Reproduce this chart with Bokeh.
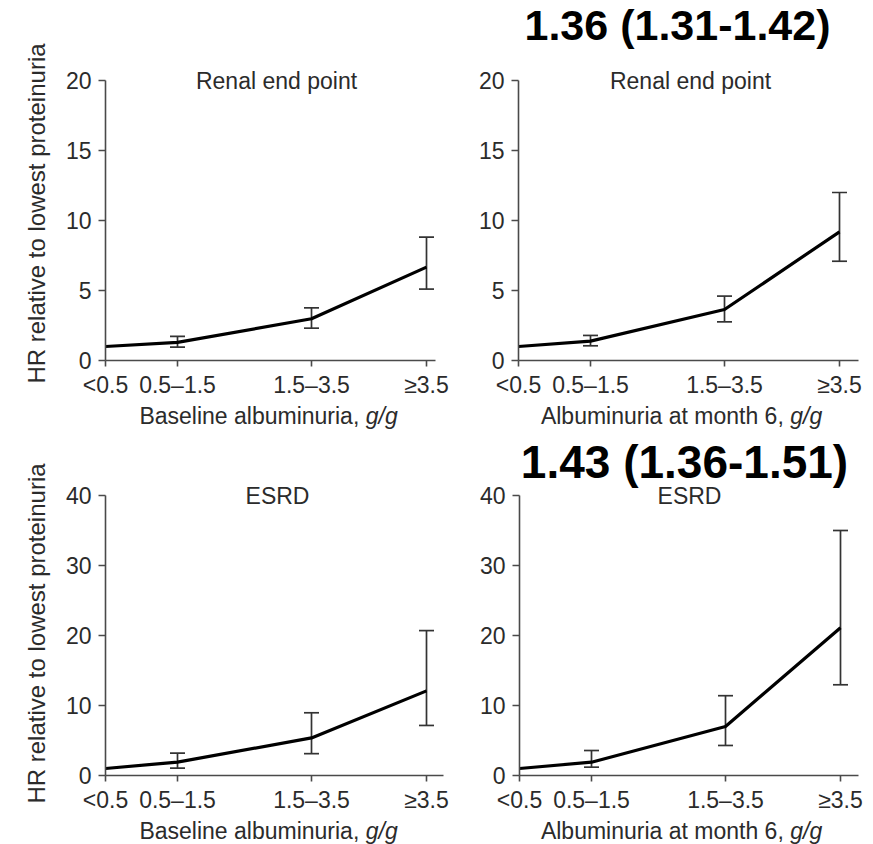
import math
from bokeh.plotting import figure
from bokeh.layouts import column, row
from bokeh.models import (ColumnDataSource, Whisker, TeeHead, Label, FixedTicker,
                          Range1d, LinearAxis)
from bokeh.embed import file_html
from bokeh.resources import INLINE

# ---------------- data ----------------
categories = ["<0.5", "0.5–1.5", "1.5–3.5", "≥3.5"]
x_pos = [0.0, 0.72, 2.06, 3.21]

renal_base_hr = [1.0, 1.30, 2.98, 6.67]
renal_base_lo = [1.0, 0.95, 2.31, 5.10]
renal_base_hi = [1.0, 1.72, 3.76, 8.81]

renal_m6_hr = [1.0, 1.38, 3.64, 9.19]
renal_m6_lo = [1.0, 1.05, 2.76, 7.09]
renal_m6_hi = [1.0, 1.79, 4.60, 12.0]

esrd_base_hr = [1.0, 1.92, 5.37, 12.09]
esrd_base_lo = [1.0, 1.05, 3.12, 7.15]
esrd_base_hi = [1.0, 3.20, 8.96, 20.7]

esrd_m6_hr = [1.0, 1.90, 7.00, 21.1]
esrd_m6_lo = [1.0, 1.19, 4.29, 12.96]
esrd_m6_hi = [1.0, 3.57, 11.4, 35.0]

renal_ticks = [0, 5, 10, 15, 20]
esrd_ticks = [0, 10, 20, 30, 40]

renal_title = "Renal end point"
esrd_title = "ESRD"
y_title = "HR relative to lowest proteinuria"
xlab_base = ("Baseline albuminuria,", "g/g")
xlab_m6 = ("Albuminuria at month 6,", "g/g")
hr_renal_text = "1.36 (1.31-1.42)"
hr_esrd_text = "1.43 (1.36-1.51)"

FONT = "Liberation Sans"
TXT = "#2b2b2b"
AX = "#4a4a4a"
FS = "23px"
PX_PER_X = 100.0


class Panel:
    def __init__(self, W, H, X0, Y0, k, x_bound, y_end, yticks, hr, lo, hi):
        self.X0, self.Y0, self.k = X0, Y0, k
        p = figure(width=W, height=H, output_backend="svg", toolbar_location=None,
                   x_range=Range1d(-X0 / PX_PER_X, (W - X0) / PX_PER_X),
                   y_range=Range1d(-(H - Y0) / k, Y0 / k),
                   x_axis_location=None, y_axis_location=None,
                   min_border=0)
        p.title.visible = False
        p.outline_line_color = None
        p.grid.visible = False
        p.background_fill_color = "white"
        p.border_fill_color = "white"

        xa = LinearAxis(fixed_location=0, bounds=(0, x_bound), ticker=FixedTicker(ticks=x_pos))
        xa.major_label_overrides = {x: c for x, c in zip(x_pos, categories)}
        ya = LinearAxis(fixed_location=0, bounds=(0, y_end), ticker=FixedTicker(ticks=yticks))
        for ax in (xa, ya):
            ax.axis_line_color = AX
            ax.axis_line_width = 1.6
            ax.major_tick_line_color = AX
            ax.major_tick_line_width = 1.6
            ax.minor_tick_line_color = None
            ax.major_tick_in = 0
            ax.major_label_text_font = FONT
            ax.major_label_text_font_size = FS
            ax.major_label_text_color = TXT
        xa.major_tick_out = 6
        ya.major_tick_out = 7
        xa.major_label_standoff = 5
        ya.major_label_standoff = 7
        p.add_layout(xa, "below")
        p.add_layout(ya, "left")

        src = ColumnDataSource(dict(x=x_pos[1:], lo=lo[1:], hi=hi[1:]))
        w = Whisker(source=src, base="x", lower="lo", upper="hi", dimension="height",
                    line_color="#333333", line_width=1.7,
                    upper_head=TeeHead(size=15, line_color="#333333", line_width=1.7),
                    lower_head=TeeHead(size=15, line_color="#333333", line_width=1.7))
        p.add_layout(w)
        p.line(x_pos, hr, line_color="black", line_width=3.2)
        self.p = p

    def text(self, px, py, text, align="center", size=FS, style="normal", color=TXT,
             angle=0.0):
        self.p.add_layout(Label(x=(px - self.X0) / PX_PER_X, y=(self.Y0 - py) / self.k,
                                text=text, text_align=align, text_baseline="middle",
                                angle=angle, text_font=FONT, text_font_size=size,
                                text_font_style=style, text_color=color))

    def xlabel(self, cx, py, parts, normal_w, gap, ital_w):
        total = normal_w + gap + ital_w
        left = cx - total / 2
        self.text(left + normal_w, py, parts[0], align="right")
        self.text(left + normal_w + gap, py, parts[1], align="left", style="italic")


TOP_H, BOT_H = 432, 412

# top-left
a = Panel(450, TOP_H, 105, 360, 14.0, 3.30, 20, renal_ticks,
          renal_base_hr, renal_base_lo, renal_base_hi)
a.text(276, 80.5, renal_title)
a.xlabel(268, 415.5, xlab_base, 220, 6.4, 32)
a.text(36, 213, y_title, size="24px", angle=math.pi / 2)

# top-right
b = Panel(423, TOP_H, 68, 360, 14.0, 3.40, 20, renal_ticks,
          renal_m6_hr, renal_m6_lo, renal_m6_hi)
b.text(240, 80, renal_title)
b.xlabel(231, 415.5, xlab_m6, 243, 6.4, 32)
b.text(227, 24, hr_renal_text, size="43px", style="bold", color="black")

# bottom-left
c = Panel(450, BOT_H, 105, 343, 7.0, 3.38, 40, esrd_ticks,
          esrd_base_hr, esrd_base_lo, esrd_base_hi)
c.text(277, 63.5, esrd_title)
c.xlabel(268, 398, xlab_base, 220, 6.4, 32)
c.text(36, 201, y_title, size="24px", angle=math.pi / 2)

# bottom-right
d = Panel(423, BOT_H, 69, 343, 7.0, 3.39, 40, esrd_ticks,
          esrd_m6_hr, esrd_m6_lo, esrd_m6_hi)
d.text(239, 63, esrd_title)
d.xlabel(231, 398, xlab_m6, 243, 6.4, 32)
d.text(234, 29, hr_esrd_text, size="46px", style="bold", color="black")

layout = column(row(a.p, b.p), row(c.p, d.p))
open("out.html", "w").write(file_html(layout, INLINE))
